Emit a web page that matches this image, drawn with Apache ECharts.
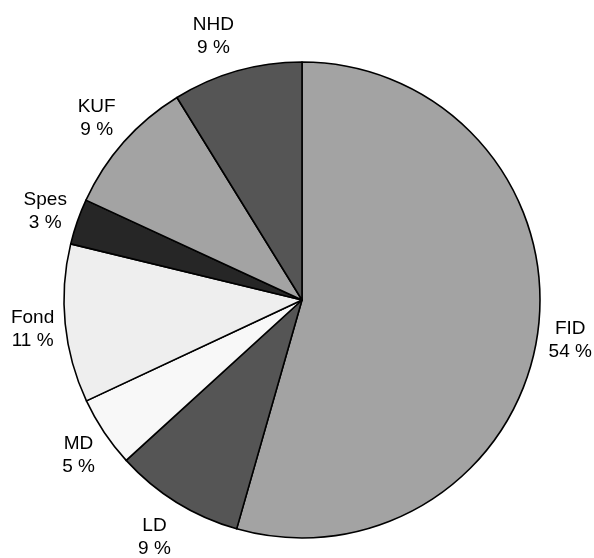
<!DOCTYPE html>
<html>
<head>
<meta charset="utf-8">
<script src="https://cdn.jsdelivr.net/npm/echarts@6/dist/echarts.min.js"></script>
<style>
  html, body { margin: 0; padding: 0; background: #fff; }
  #chart { width: 594px; height: 558px; }
</style>
</head>
<body>
<div id="chart"></div>
<script>
// Shares per unit (percent), clockwise from 12 o'clock
const categories = ['FID', 'LD', 'MD', 'Fond', 'Spes', 'KUF', 'NHD'];
const shares = [54.4, 8.8, 4.8, 10.75, 3.1, 9.3, 8.8];

// Grey fills for each slice
const palette = ['#a3a3a3', '#555555', '#f8f8f8', '#eeeeee', '#262626', '#a3a3a3', '#555555'];

const CX = 302, CY = 300, R = 238;
const LABEL_RADIUS = 249;   // anchor circle for the labels, just outside the rim

// mid-angle of each slice (radians, measured clockwise from 12 o'clock)
const total = shares.reduce((a, b) => a + b, 0);
const midAngles = [];
shares.reduce((acc, v) => {
  midAngles.push(((acc + v / 2) / total) * 2 * Math.PI);
  return acc + v;
}, 0);

const chart = echarts.init(document.getElementById('chart'), null, { renderer: 'canvas' });

chart.setOption({
  animation: false,
  backgroundColor: '#ffffff',
  series: [
    {
      type: 'pie',
      center: [CX, CY],
      radius: [0, R],
      startAngle: 90,
      clockwise: true,
      silent: true,
      percentPrecision: 0,
      data: categories.map((name, i) => ({
        name,
        value: shares[i],
        itemStyle: { color: palette[i] }
      })),
      itemStyle: { borderColor: '#000000', borderWidth: 1.6 },
      label: {
        show: true,
        position: 'inside',
        formatter: '{b}\n{d} %',
        color: '#000000',
        fontFamily: 'Liberation Sans, Arial, sans-serif',
        fontSize: 19,
        lineHeight: 23,
        align: 'center'
      },
      labelLine: { show: false },
      // labels sit beside their anchor point: fully to the outer side horizontally,
      // and pushed up/down in proportion to how vertical the slice direction is
      labelLayout: function (params) {
        const a = midAngles[params.dataIndex];
        const dx = Math.sin(a), dy = -Math.cos(a);
        const hw = params.labelRect.width / 2, hh = params.labelRect.height / 2;
        return {
          x: CX + dx * LABEL_RADIUS + Math.sign(dx) * hw,
          y: CY + dy * LABEL_RADIUS + dy * hh * 1.2 + 2,
          align: 'center',
          verticalAlign: 'middle'
        };
      }
    }
  ]
});
</script>
</body>
</html>
